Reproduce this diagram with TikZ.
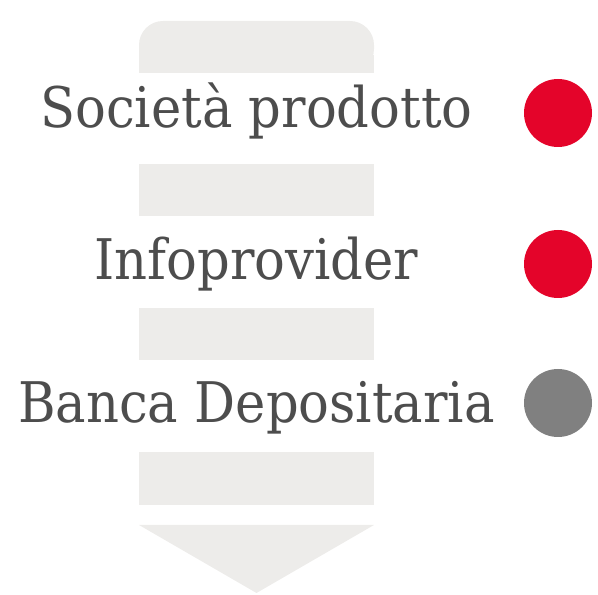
\documentclass[tikz,border=0pt]{standalone}
\usepackage{fontspec}
\setmainfont{DejaVu Serif}
\definecolor{band}{RGB}{237,236,234}
\definecolor{txt}{RGB}{77,77,77}
\definecolor{dotred}{RGB}{228,4,42}
\definecolor{dotgray}{RGB}{128,128,128}
\newcommand{\lbltext}[1]{\scalebox{0.914}[1]{#1}}
\begin{document}
\begin{tikzpicture}[x=1pt,y=1pt,
  bandseg/.style={fill=band,draw=none},
  label/.style={anchor=base,text=txt,inner sep=0pt,font=\fontsize{56}{62}\selectfont},
  dot/.style={circle,minimum size=68pt,inner sep=0pt,draw=none}]
\useasboundingbox (0,0) rectangle (598,595);
\fill[band,rounded corners=24pt] (139,522) -- (139,574) -- (374,574) -- (374,522) [sharp corners] -- cycle;
\fill[band] (139,522) rectangle (374,540);
\fill[bandseg] (139,379) rectangle (374,431);
\fill[bandseg] (139,235) rectangle (374,287);
\fill[bandseg] (139,90) rectangle (374,143);
\fill[bandseg] (139,70) -- (374,70) -- (256.5,2) -- cycle;
\node[label] (t1) at (256.5,467) {\lbltext{Società prodotto}};
\node[label] (t2) at (256.5,315) {\lbltext{Infoprovider}};
\node[label] (t3) at (256.5,172) {\lbltext{Banca Depositaria}};
\node[dot,fill=dotred] (c1) at (558,482) {};
\node[dot,fill=dotred] (c2) at (558,331) {};
\node[dot,fill=dotgray] (c3) at (558,192) {};
\end{tikzpicture}
\end{document}
